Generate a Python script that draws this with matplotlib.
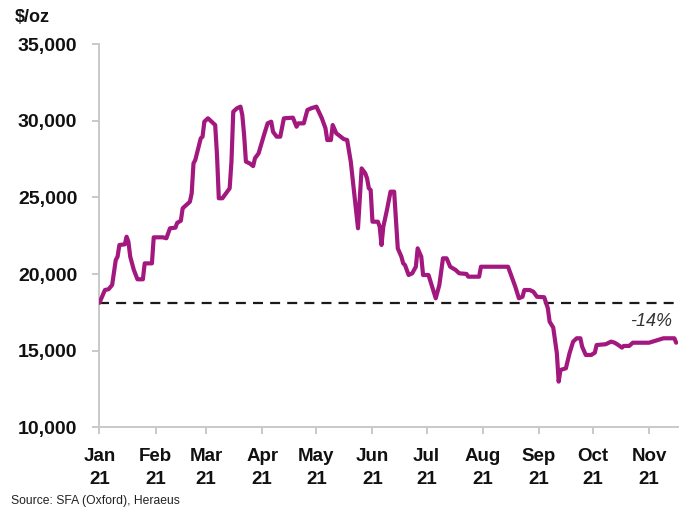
import matplotlib
matplotlib.use("Agg")
import matplotlib.pyplot as plt
import pandas as pd

# ---- data ----
dates = [
    "2021-01-01", "2021-01-04", "2021-01-06", "2021-01-08", "2021-01-10", "2021-01-11",
    "2021-01-12", "2021-01-15", "2021-01-16", "2021-01-17", "2021-01-18", "2021-01-20",
    "2021-01-22", "2021-01-25", "2021-01-26", "2021-01-30", "2021-01-31", "2021-02-05",
    "2021-02-07", "2021-02-09", "2021-02-12", "2021-02-13", "2021-02-15", "2021-02-16",
    "2021-02-18", "2021-02-20", "2021-02-21", "2021-02-22", "2021-02-23", "2021-02-26",
    "2021-02-27", "2021-02-28", "2021-03-02", "2021-03-04", "2021-03-06", "2021-03-07",
    "2021-03-08", "2021-03-10", "2021-03-12", "2021-03-14", "2021-03-15", "2021-03-16",
    "2021-03-18", "2021-03-20", "2021-03-21", "2021-03-22", "2021-03-23", "2021-03-25",
    "2021-03-27", "2021-03-28", "2021-03-30", "2021-04-02", "2021-04-04", "2021-04-06",
    "2021-04-07", "2021-04-09", "2021-04-11", "2021-04-13", "2021-04-18", "2021-04-20",
    "2021-04-21", "2021-04-24", "2021-04-26", "2021-04-28", "2021-05-01", "2021-05-04",
    "2021-05-06", "2021-05-07", "2021-05-09", "2021-05-10", "2021-05-12", "2021-05-14",
    "2021-05-16", "2021-05-18", "2021-05-20", "2021-05-22", "2021-05-24", "2021-05-26",
    "2021-05-28", "2021-05-29", "2021-05-30", "2021-05-31", "2021-06-01", "2021-06-04",
    "2021-06-05", "2021-06-06", "2021-06-07", "2021-06-09", "2021-06-11", "2021-06-13",
    "2021-06-15", "2021-06-17", "2021-06-18", "2021-06-19", "2021-06-21", "2021-06-23",
    "2021-06-25", "2021-06-26", "2021-06-28", "2021-06-29", "2021-07-02", "2021-07-04",
    "2021-07-06", "2021-07-08", "2021-07-10", "2021-07-12", "2021-07-14", "2021-07-17",
    "2021-07-19", "2021-07-23", "2021-07-24", "2021-07-30", "2021-07-31", "2021-08-15",
    "2021-08-17", "2021-08-19", "2021-08-21", "2021-08-23", "2021-08-24", "2021-08-27",
    "2021-08-29", "2021-08-31", "2021-09-04", "2021-09-06", "2021-09-07", "2021-09-09",
    "2021-09-11", "2021-09-12", "2021-09-13", "2021-09-16", "2021-09-18", "2021-09-20",
    "2021-09-22", "2021-09-24", "2021-09-25", "2021-09-27", "2021-09-30", "2021-10-02",
    "2021-10-03", "2021-10-08", "2021-10-11", "2021-10-13", "2021-10-15", "2021-10-17",
    "2021-10-18", "2021-10-21", "2021-10-23", "2021-11-01", "2021-11-04", "2021-11-06",
    "2021-11-09", "2021-11-15", "2021-11-16",
]
prices = [
    18130, 18960, 19010, 19290, 20920, 21135,
    21900, 21940, 22440, 22110, 21135, 20270,
    19660, 19660, 20700, 20700, 22400, 22400,
    22340, 22990, 23030, 23350, 23480, 24290,
    24510, 24720, 25270, 27230, 27450, 28860,
    28970, 29950, 30170, 29950, 29730, 27770,
    24950, 24950, 25270, 25600, 27340, 30600,
    30820, 30930, 30380, 29080, 27340, 27230,
    27050, 27560, 27880, 29080, 29840, 29950,
    29290, 28970, 28970, 30170, 30210, 29620,
    29840, 29840, 30710, 30820, 30930, 30170,
    29520, 28750, 28750, 29730, 29190, 29010,
    28820, 28750, 27340, 25160, 22990, 26900,
    26580, 26250, 25600, 25490, 23420, 23420,
    23090, 21900, 23090, 24180, 25380, 25380,
    21680, 21135, 20700, 20590, 19940, 20050,
    20480, 21680, 21135, 19940, 19940, 19180,
    18420, 19290, 21030, 21030, 20480, 20270,
    20050, 20010, 19830, 19830, 20480, 20480,
    19830, 19180, 18420, 18520, 18960, 18960,
    18850, 18520, 18490, 17770, 16890, 16510,
    14830, 12980, 13740, 13850, 14830, 15590,
    15810, 15810, 15260, 14720, 14720, 14870,
    15370, 15420, 15590, 15520, 15370, 15200,
    15310, 15310, 15520, 15520, 15630, 15700,
    15810, 15810, 15520,
]
start_level = 18130
change_label = "-14%"
y_ticks = [10000, 15000, 20000, 25000, 30000, 35000]
month_ticks = ["2021-01-01", "2021-02-01", "2021-03-01", "2021-04-01", "2021-05-01",
               "2021-06-01", "2021-07-01", "2021-08-01", "2021-09-01", "2021-10-01",
               "2021-11-01"]
month_labels = ["Jan\n21", "Feb\n21", "Mar\n21", "Apr\n21", "May\n21", "Jun\n21",
                "Jul\n21", "Aug\n21", "Sep\n21", "Oct\n21", "Nov\n21"]
x_start, x_end = "2021-01-01", "2021-11-17"
unit_label = "$/oz"
source_text = "Source: SFA (Oxford), Heraeus"

# ---- plotting ----
x = pd.to_datetime(dates)
fig = plt.figure(figsize=(6.89, 5.08), dpi=100)
ax = fig.add_axes([0.1444, 0.1589, 0.9840 - 0.1444, 0.9128 - 0.1589])

xs, xe = pd.Timestamp(x_start), pd.Timestamp(x_end)
ax.plot([xs, xe], [start_level, start_level], color="#1a1a1a", lw=1.6,
        dashes=(4.5, 3.2), zorder=2)
ax.plot(x, prices, color="#A2187F", lw=3.0, solid_joinstyle="round",
        solid_capstyle="round", zorder=3)

ax.set_xlim(xs, xe)
ax.set_ylim(10000, 35000)

grey = "#c9c9c9"
for s in ["top", "right"]:
    ax.spines[s].set_visible(False)
for s in ["left", "bottom"]:
    ax.spines[s].set_color(grey)
    ax.spines[s].set_linewidth(1.4)

ax.set_yticks(y_ticks)
ax.set_yticklabels([f"{v:,}" for v in y_ticks])
ax.set_xticks(pd.to_datetime(month_ticks))
ax.set_xticklabels(month_labels)

ax.tick_params(axis="y", length=5, width=1.4, color=grey, pad=11,
               labelsize=14, labelcolor="#111111")
ax.tick_params(axis="x", length=5, width=1.4, color=grey, pad=10,
               labelsize=13.5, labelcolor="#111111")
for lab in ax.get_yticklabels():
    lab.set_fontfamily(["Liberation Sans", "DejaVu Sans"])
    lab.set_fontweight("bold")
for lab in ax.get_xticklabels():
    lab.set_fontfamily(["Liberation Sans", "DejaVu Sans"])
    lab.set_fontweight("bold")
    lab.set_linespacing(1.45)

ax.text(0.9896, 0.2775, change_label, transform=ax.transAxes, ha="right", va="center",
        fontsize=13, fontstyle="italic", color="#333333",
        family=["Liberation Sans", "DejaVu Sans"])

fig.text(15 / 689, 1 - 18 / 508, unit_label, ha="left", va="center", fontsize=13,
         fontweight="bold", color="#111111", family=["Liberation Sans", "DejaVu Sans"])
fig.text(11 / 689, 1 - 501 / 508, source_text, ha="left", va="center", fontsize=8.7,
         color="#222222", family=["Liberation Sans", "DejaVu Sans"])

fig.savefig("out.png", dpi=100)
